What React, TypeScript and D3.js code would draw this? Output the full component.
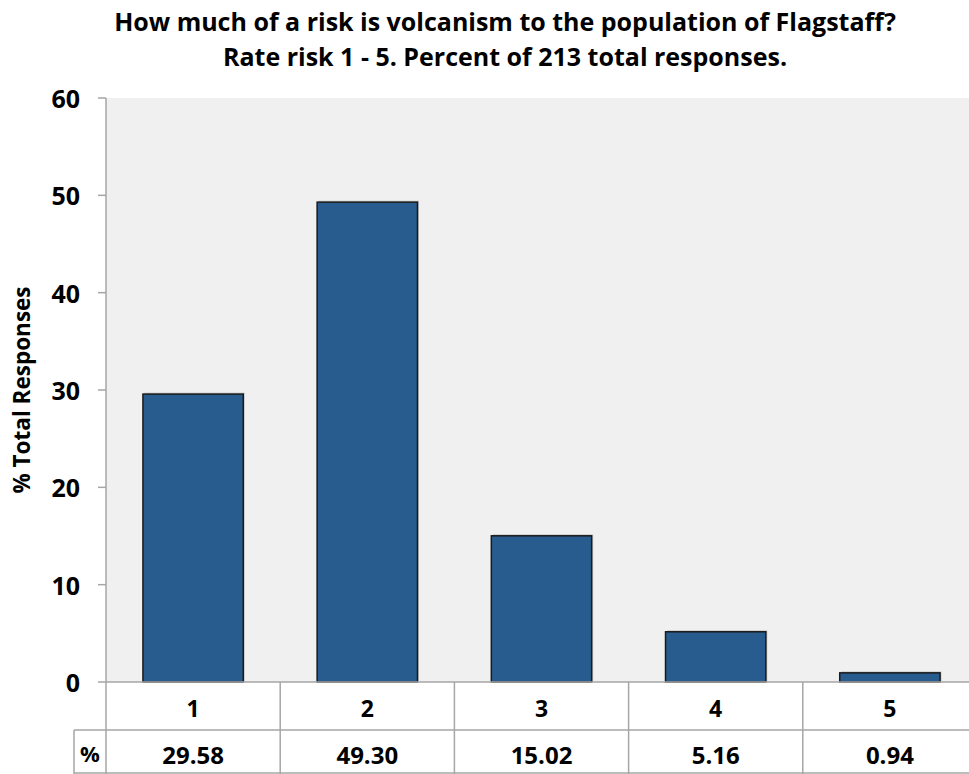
import React from "react";
import * as d3 from "d3";

const categories = ["1", "2", "3", "4", "5"];
const percentValues = [29.58, 49.3, 15.02, 5.16, 0.94];
const percentLabels = ["29.58", "49.30", "15.02", "5.16", "0.94"];
const yTicks = [0, 10, 20, 30, 40, 50, 60];
const titleLines = [
  "How much of a risk is volcanism to the population of Flagstaff?",
  "Rate risk 1 - 5. Percent of 213 total responses.",
];
const yAxisTitle = "% Total Responses";
const rowHeader = "%";

const W = 969;
const H = 774;
const plotLeft = 106;
const plotRight = 977;
const plotTop = 98;
const plotBottom = 682;
const row1Bottom = 730;
const row2Bottom = 773;
const pctCellLeft = 74;
const FONT = "'Open Sans', Lato, sans-serif";
const gridColor = "#a6a6a6";

export default function App() {
  const y = d3.scaleLinear().domain([0, 60]).range([plotBottom, plotTop]);
  const xBar = d3
    .scaleBand<string>()
    .domain(categories)
    .range([plotLeft, plotRight])
    .paddingInner(0.424)
    .paddingOuter(0.212);
  const xCell = d3.scaleBand<string>().domain(categories).range([plotLeft, plotRight]).padding(0);

  return (
    <svg width={W} height={H} style={{ position: "absolute", left: 0, top: 0, background: "#fff" }}>
      <rect x={plotLeft} y={plotTop} width={plotRight - plotLeft} height={plotBottom - plotTop} fill="#f0f0f0" />
      {titleLines.map((t, i) => (
        <text
          key={i}
          x={505}
          y={31 + i * 35}
          textAnchor="middle"
          fontFamily={FONT}
          fontWeight="bold"
          fontSize={25}
          fill="#000"
        >
          {t}
        </text>
      ))}
      {/* bars */}
      {categories.map((c, i) => {
        const x0 = xBar(c)!;
        const bw = xBar.bandwidth();
        const yt = y(percentValues[i]);
        return (
          <g key={c}>
            <rect x={x0 + 1.5} y={yt - 1.5} width={bw} height={plotBottom - yt + 1.5} fill="#c8c8c8" />
            <rect
              x={x0}
              y={yt}
              width={bw}
              height={plotBottom - yt}
              fill="#285c8e"
              stroke="#1a1a1a"
              strokeWidth={1.5}
            />
          </g>
        );
      })}
      {/* y axis */}
      <line x1={plotLeft} x2={plotLeft} y1={plotTop} y2={H} stroke={gridColor} strokeWidth={1.5} />
      {yTicks.map((t) => (
        <g key={t}>
          <line x1={plotLeft - 8} x2={plotLeft} y1={y(t)} y2={y(t)} stroke={gridColor} strokeWidth={1.5} />
          <text
            x={80}
            y={y(t) + 10}
            textAnchor="end"
            fontFamily={FONT}
            fontWeight="bold"
            fontSize={25}
          >
            {t}
          </text>
        </g>
      ))}
      <text
        transform={`translate(30,390) rotate(-90)`}
        textAnchor="middle"
        fontFamily={FONT}
        fontWeight="bold"
        fontSize={22.5}
      >
        {yAxisTitle}
      </text>
      {/* data table */}
      <line x1={plotLeft} x2={plotRight} y1={plotBottom} y2={plotBottom} stroke={gridColor} strokeWidth={1.5} />
      <line x1={pctCellLeft} x2={plotRight} y1={row1Bottom} y2={row1Bottom} stroke={gridColor} strokeWidth={1.5} />
      <line x1={pctCellLeft} x2={plotRight} y1={row2Bottom} y2={row2Bottom} stroke={gridColor} strokeWidth={1.5} />
      <line x1={pctCellLeft} x2={pctCellLeft} y1={row1Bottom} y2={H} stroke={gridColor} strokeWidth={1.5} />
      {categories.map((c, i) => {
        const x0 = xCell(c)!;
        const cw = xCell.bandwidth();
        return (
          <g key={c}>
            <line x1={x0 + cw} x2={x0 + cw} y1={plotBottom} y2={H} stroke={gridColor} strokeWidth={1.5} />
            <text
              x={x0 + cw / 2}
              y={717}
              textAnchor="middle"
              fontFamily={FONT}
              fontWeight="bold"
              fontSize={23}
            >
              {c}
            </text>
            <text
              x={x0 + cw / 2}
              y={764}
              textAnchor="middle"
              fontFamily={FONT}
              fontWeight="bold"
              fontSize={24}
            >
              {percentLabels[i]}
            </text>
          </g>
        );
      })}
      <text
        x={(pctCellLeft + plotLeft) / 2}
        y={762}
        textAnchor="middle"
        fontFamily={FONT}
        fontWeight="bold"
        fontSize={22}
      >
        {rowHeader}
      </text>
    </svg>
  );
}
